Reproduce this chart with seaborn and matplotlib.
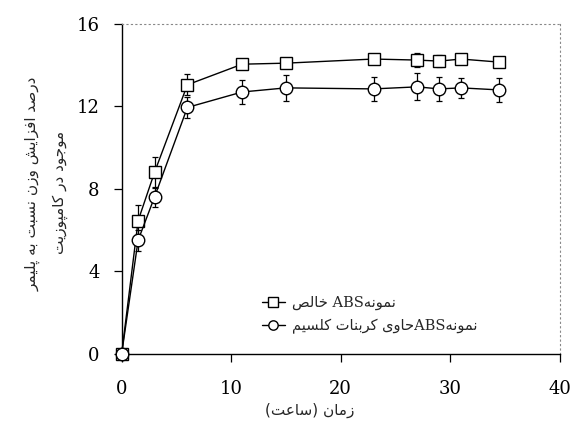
"""
Weight gain (%) of ABS samples vs. time, pure ABS and ABS with calcium carbonate.
"""

import re
import matplotlib
matplotlib.use("Agg")
import matplotlib.pyplot as plt
import pandas as pd
import seaborn as sns

# data
hours = [0, 1.5, 3, 6, 11, 15, 23, 27, 29, 31, 34.5]
abs_pure = [0, 6.45, 8.8, 13.05, 14.05, 14.1, 14.3, 14.25, 14.2, 14.3, 14.15]
abs_pure_err = [0, 0.75, 0.75, 0.5, 0.25, 0.25, 0.2, 0.35, 0.3, 0.15, 0.2]
abs_caco3 = [0, 5.5, 7.6, 11.95, 12.7, 12.9, 12.85, 12.95, 12.85, 12.9, 12.8]
abs_caco3_err = [0, 0.5, 0.5, 0.5, 0.57, 0.62, 0.6, 0.66, 0.57, 0.48, 0.57]

x_ticks = [0, 10, 20, 30, 40]
y_ticks = [0, 4, 8, 12, 16]

label_pure = "نمونهABS خالص"
label_caco3 = "نمونهABSحاوی کربنات کلسیم"
x_label = "زمان (ساعت)"
y_label_1 = "درصد افزایش وزن نسبت به پلیمر"
y_label_2 = "موجود در کامپوزیت"


# matplotlib 3.10 has no arabic shaping / bidi -> do it by hand
# (isolated, final, initial, medial)
FORMS = {
    'ا': ('\uFE8D', '\uFE8E', None, None),
    'ب': ('\uFE8F', '\uFE90', '\uFE91', '\uFE92'),
    'پ': ('\uFB56', '\uFB57', '\uFB58', '\uFB59'),
    'ت': ('\uFE95', '\uFE96', '\uFE97', '\uFE98'),
    'ج': ('\uFE9D', '\uFE9E', '\uFE9F', '\uFEA0'),
    'ح': ('\uFEA1', '\uFEA2', '\uFEA3', '\uFEA4'),
    'خ': ('\uFEA5', '\uFEA6', '\uFEA7', '\uFEA8'),
    'د': ('\uFEA9', '\uFEAA', None, None),
    'ر': ('\uFEAD', '\uFEAE', None, None),
    'ز': ('\uFEAF', '\uFEB0', None, None),
    'س': ('\uFEB1', '\uFEB2', '\uFEB3', '\uFEB4'),
    'ش': ('\uFEB5', '\uFEB6', '\uFEB7', '\uFEB8'),
    'ص': ('\uFEB9', '\uFEBA', '\uFEBB', '\uFEBC'),
    'ع': ('\uFEC9', '\uFECA', '\uFECB', '\uFECC'),
    'ف': ('\uFED1', '\uFED2', '\uFED3', '\uFED4'),
    'ک': ('\uFB8E', '\uFB8F', '\uFB90', '\uFB91'),
    'ل': ('\uFEDD', '\uFEDE', '\uFEDF', '\uFEE0'),
    'م': ('\uFEE1', '\uFEE2', '\uFEE3', '\uFEE4'),
    'ن': ('\uFEE5', '\uFEE6', '\uFEE7', '\uFEE8'),
    'ه': ('\uFEE9', '\uFEEA', '\uFEEB', '\uFEEC'),
    'و': ('\uFEED', '\uFEEE', None, None),
    'ی': ('\uFBFC', '\uFBFD', '\uFBFE', '\uFBFF'),
}


def shape(text):
    out = []
    for i, ch in enumerate(text):
        if ch not in FORMS:
            out.append(ch)
            continue
        iso, fin, ini, med = FORMS[ch]
        prev = text[i - 1] if i > 0 else ''
        nxt = text[i + 1] if i < len(text) - 1 else ''
        jp = prev in FORMS and FORMS[prev][2] is not None
        jn = ini is not None and nxt in FORMS
        if jp and jn:
            out.append(med)
        elif jp:
            out.append(fin)
        elif jn:
            out.append(ini)
        else:
            out.append(iso)
    return ''.join(out)


def fa(text):
    s = shape(text)
    runs = re.findall(r'[A-Za-z0-9]+|[^A-Za-z0-9]+', s)
    mirror = str.maketrans('()', ')(')
    return ''.join(r if r[0].isascii() and r[0].isalnum() else r[::-1].translate(mirror)
                   for r in reversed(runs))


df = pd.DataFrame({
    'hours': hours * 2,
    'gain': abs_pure + abs_caco3,
    'err': abs_pure_err + abs_caco3_err,
    'sample': [fa(label_pure)] * len(hours) + [fa(label_caco3)] * len(hours),
})

sns.set_style("ticks")
plt.rcParams['font.family'] = ['DejaVu Serif', 'DejaVu Sans']

fig = plt.figure(figsize=(5.74, 4.37), dpi=100)
ax = fig.add_axes([0.212, 0.191, 0.763, 0.754])

for name, d in df.groupby('sample', sort=False):
    d = d[d['err'] > 0]
    ax.errorbar(d['hours'], d['gain'], yerr=d['err'], fmt='none', ecolor='black',
                elinewidth=0.9, capsize=2.5, capthick=0.9, zorder=2)

sns.lineplot(data=df, x='hours', y='gain', style='sample', markers=['s', 'o'],
             dashes=False, color='black', linewidth=1.0, markersize=9,
             markerfacecolor='white', markeredgecolor='black', markeredgewidth=1.0,
             ax=ax, zorder=3, clip_on=False)

ax.set_xlim(0, 40)
ax.set_ylim(0, 16)
ax.set_xticks(x_ticks)
ax.set_yticks(y_ticks)
ax.tick_params(axis='both', direction='out', length=6, width=0.9, labelsize=13,
               colors='black')
ax.tick_params(axis='x', pad=13)
ax.tick_params(axis='y', pad=10)

for side in ['left', 'bottom']:
    ax.spines[side].set_linewidth(1.0)
    ax.spines[side].set_color('black')
for side in ['top', 'right']:
    ax.spines[side].set_linestyle((0, (1, 3)))
    ax.spines[side].set_linewidth(0.8)
    ax.spines[side].set_color('#888888')

ax.set_xlabel(fa(x_label), family='DejaVu Sans', fontsize=11)
ax.xaxis.set_label_coords(0.43, -0.15)
ax.set_ylabel('')

fig.text(0.058, 0.58, fa(y_label_1), rotation=90, ha='center', va='center',
         family='DejaVu Sans', fontsize=11)
fig.text(0.105, 0.56, fa(y_label_2), rotation=90, ha='center', va='center',
         family='DejaVu Sans', fontsize=11)

leg = ax.legend(loc='lower left', bbox_to_anchor=(0.29, 0.02), frameon=False,
                handlelength=1.6, handletextpad=0.5, labelspacing=0.6,
                markerscale=0.75, prop={'family': ['DejaVu Serif', 'DejaVu Sans'], 'size': 10.5})

fig.savefig('out.png', dpi=100)
